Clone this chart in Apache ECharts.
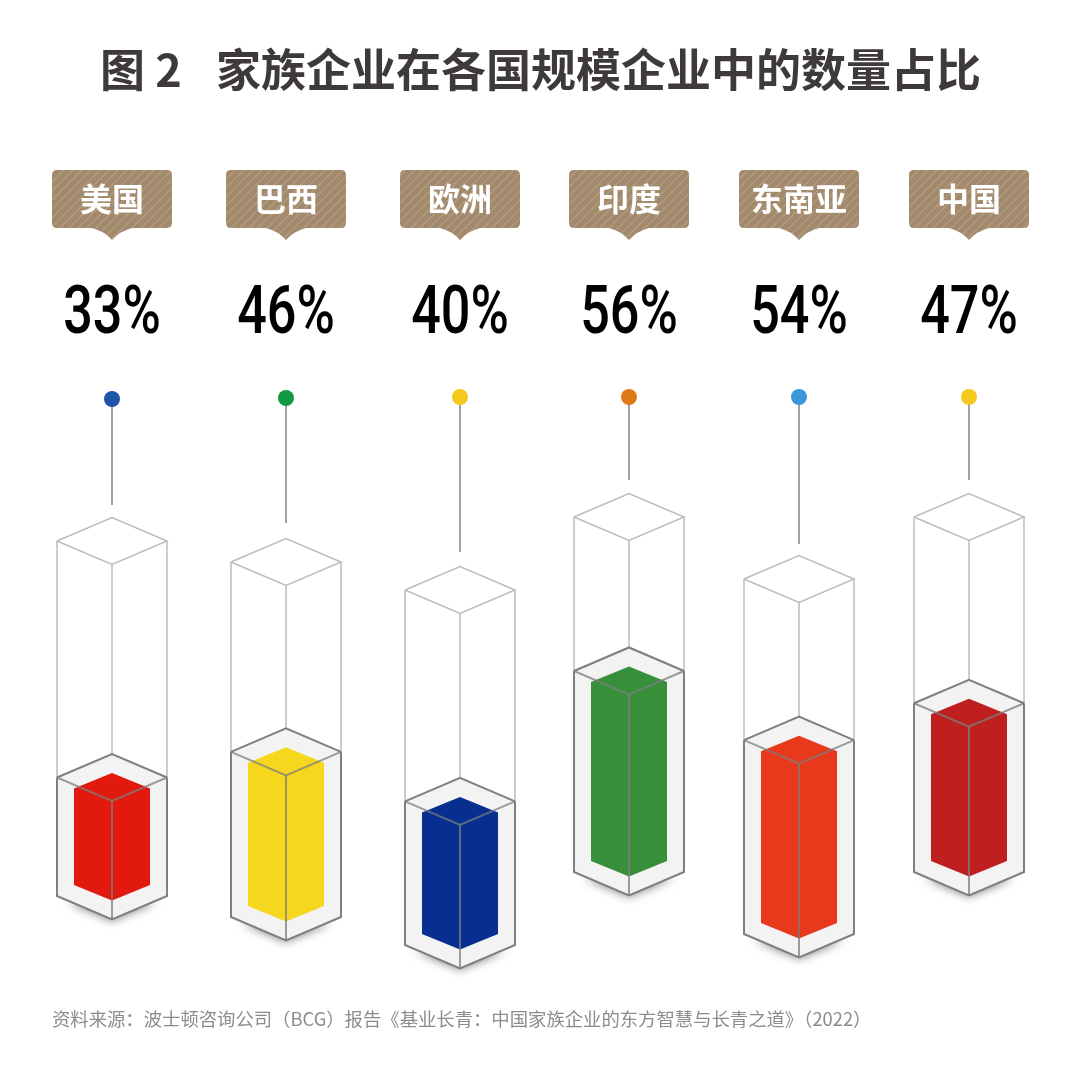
<!DOCTYPE html>
<html>
<head>
<meta charset="utf-8">
<title>图 2</title>
<script src="https://cdn.jsdelivr.net/npm/echarts@6/dist/echarts.min.js"></script>
<style>
  html, body { margin: 0; padding: 0; background: #fff; }
  #chart { width: 1080px; height: 1080px; }
</style>
</head>
<body>
<div id="chart"></div>
<script>
const categories = ["美国", "巴西", "欧洲", "印度", "东南亚", "中国"];
const shares = [33, 46, 40, 56, 54, 47];

const barColors = ["#e2190f", "#f5d81d", "#062f8f", "#378f3a", "#e8391d", "#c01f1f"];
const pinColors = ["#1f55a8", "#0f9a42", "#f4c81c", "#e07a14", "#3a97d8", "#f4c81c"];

// the columns float and are not evenly spaced in the original
const nudgeX = [0, 2.6, 5.2, 2.8, 1.4, 0];
const dropY = [-4, 17, 45, -28, 34, -28];
const pinY = [399, 398, 397, 397, 397, 397];
const pinEnd = [505, 523, 552, 480, 544, 480];

const GLASS_TOP = 98.9; // glass is drawn a touch short of 100 on the scale
const HALF_W = 55;
const DIAMOND = 23.5;
const INNER_W = 38;
const INNER_D = 15.5;
const INSET = 11;
const LIGHT = "#bcbcbc";
const DARK = "#7f7f7f";
const OVER = "rgba(125,125,125,0.75)";

function hatchTile() {
  const c = document.createElement("canvas");
  c.width = 9;
  c.height = 9;
  const ctx = c.getContext("2d");
  ctx.fillStyle = "#a48a6c";
  ctx.fillRect(0, 0, 9, 9);
  ctx.strokeStyle = "#b5a088";
  ctx.lineWidth = 1.1;
  [-9, 0, 9].forEach((o) => {
    ctx.beginPath();
    ctx.moveTo(o, 9);
    ctx.lineTo(o + 9, 0);
    ctx.stroke();
  });
  return c;
}
const hatch = { image: hatchTile(), repeat: "repeat" };

echarts.graphic.registerShape(
  "tagShape",
  echarts.graphic.extendShape({
    shape: { cx: 0 },
    buildPath(ctx, s) {
      const l = s.cx - 60, r = s.cx + 60, t = 170, b = 228, k = 5;
      ctx.moveTo(l + k, t);
      ctx.lineTo(r - k, t);
      ctx.quadraticCurveTo(r, t, r, t + k);
      ctx.lineTo(r, b - k);
      ctx.quadraticCurveTo(r, b, r - k, b);
      ctx.lineTo(s.cx + 20, b);
      ctx.quadraticCurveTo(s.cx + 8, b + 3, s.cx, b + 12);
      ctx.quadraticCurveTo(s.cx - 8, b + 3, s.cx - 20, b);
      ctx.lineTo(l + k, b);
      ctx.quadraticCurveTo(l, b, l, b - k);
      ctx.lineTo(l, t + k);
      ctx.quadraticCurveTo(l, t, l + k, t);
      ctx.closePath();
    },
  })
);

function line(points, stroke, width) {
  return {
    type: "polyline",
    shape: { points },
    style: { stroke, lineWidth: width, fill: "none" },
  };
}

function poly(points, fill, extra) {
  return {
    type: "polygon",
    shape: { points },
    style: Object.assign({ fill }, extra || {}),
  };
}

function renderColumn(params, api) {
  const i = params.dataIndex;
  const value = api.value(1);
  const cx = api.coord([i, 0])[0] + nudgeX[i];
  const base = api.coord([i, 0])[1] + dropY[i];
  const top = api.coord([i, GLASS_TOP])[1] + dropY[i];
  const water = api.coord([i, value])[1] + dropY[i];
  const l = cx - HALF_W, r = cx + HALF_W;
  const fillTop = water + INSET, fillBase = base - INSET;
  const il = cx - INNER_W, ir = cx + INNER_W;

  return {
    type: "group",
    children: [
      // tag, share label, pin
      { type: "tagShape", shape: { cx }, style: { fill: hatch } },
      {
        type: "text",
        x: cx,
        y: 199,
        style: {
          text: categories[i],
          fill: "#fff",
          font: 'bold 32px "Noto Sans CJK SC"',
          textAlign: "center",
          textVerticalAlign: "middle",
        },
      },
      {
        type: "text",
        x: cx,
        y: 316,
        scaleX: 0.79,
        style: {
          text: value + "%",
          fill: "#000",
          font: "500 66px Roboto",
          textAlign: "center",
          textVerticalAlign: "middle",
        },
      },
      line([[cx, pinY[i]], [cx, pinEnd[i]]], "#8a8a8a", 1.6),
      {
        type: "circle",
        shape: { cx, cy: pinY[i], r: 8 },
        style: { fill: pinColors[i] },
      },

      // shadow, liquid block
      poly([[l + 10, base + 3], [cx, base + DIAMOND - 2], [r - 10, base + 3]], "#aaa", {
        shadowBlur: 10,
        shadowColor: "rgba(0,0,0,0.5)",
        shadowOffsetY: 3,
      }),
      poly(
        [[l, water], [cx, water - DIAMOND], [r, water], [r, base], [cx, base + DIAMOND], [l, base]],
        "#f3f3f4"
      ),

      // value column
      poly(
        [
          [il, fillTop],
          [cx, fillTop - INNER_D],
          [ir, fillTop],
          [ir, fillBase],
          [cx, fillBase + INNER_D],
          [il, fillBase],
        ],
        barColors[i]
      ),

      // empty part of the glass
      line([[l, top], [cx, top - DIAMOND], [r, top], [cx, top + DIAMOND], [l, top]], LIGHT, 1.5),
      line([[l, top], [l, water]], LIGHT, 1.5),
      line([[r, top], [r, water]], LIGHT, 1.5),
      line([[cx, top + DIAMOND], [cx, water - DIAMOND]], LIGHT, 1.5),

      // liquid outline
      line([[l, water], [cx, water - DIAMOND], [r, water]], DARK, 2),
      line([[l, water], [cx, water + DIAMOND], [r, water]], OVER, 2),
      line([[cx, water + DIAMOND], [cx, base + DIAMOND]], OVER, 2),
      line([[l, water], [l, base], [cx, base + DIAMOND], [r, base], [r, water]], DARK, 2),
    ],
  };
}

const chart = echarts.init(document.getElementById("chart"));

const titleStyle = {
  color: "#3e3a39",
  fontSize: 45,
  fontWeight: "bold",
  fontFamily: "Noto Sans CJK SC",
};

chart.setOption({
  backgroundColor: "#fff",
  animation: false,
  title: [
    { text: "图 2", left: 95, top: 42, textStyle: titleStyle },
    { text: "家族企业在各国规模企业中的数量占比", left: 211, top: 42, textStyle: titleStyle },
    {
      text: "资料来源：波士顿咨询公司（BCG）报告《基业长青：中国家族企业的东方智慧与长青之道》（2022）",
      left: 47,
      top: 1005,
      textStyle: {
        color: "#8c8c8c",
        fontSize: 18.35,
        fontWeight: "normal",
        fontFamily: "Noto Sans CJK SC",
      },
    },
  ],
  grid: { left: 26.3, width: 1028.4, top: 541, height: 359 },
  xAxis: { type: "category", data: categories, show: false },
  yAxis: { type: "value", min: 0, max: 100, show: false },
  series: [
    {
      type: "custom",
      clip: false,
      silent: true,
      renderItem: renderColumn,
      encode: { x: 0, y: 1 },
      data: shares.map((v, i) => [i, v]),
    },
  ],
});
</script>
</body>
</html>
